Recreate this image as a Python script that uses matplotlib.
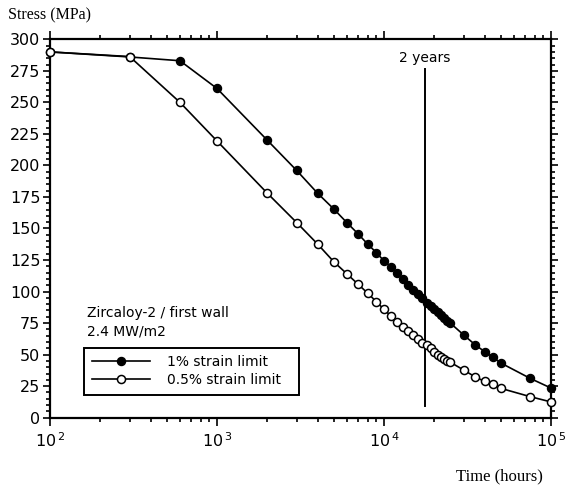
import matplotlib
matplotlib.use("Agg")
import matplotlib.pyplot as plt
from matplotlib.ticker import MultipleLocator, LogLocator, FixedLocator, FixedFormatter, NullFormatter

# ---- data ----
time_1pct = [100, 300, 600, 1000, 2000, 3000, 4000, 5000, 6000, 7000, 8000, 9000, 10000,
             11000, 12000, 13000, 14000, 15000, 16000, 17000, 18000, 19000, 20000, 21000,
             22000, 23000, 24000, 25000, 30000, 35000, 40000, 45000, 50000, 75000, 100000]
stress_1pct = [290, 286, 283, 261, 220, 196, 178, 165.5, 154.6, 145.7, 137.5, 130.9, 124.3,
               119.8, 114.5, 109.7, 105.2, 101.3, 98.1, 94.7, 91.2, 88.6, 85.9, 84.1,
               81.4, 78.8, 76.7, 74.9, 65.6, 58.0, 52.4, 47.9, 43.4, 31.2, 23.5]

time_05pct = [100, 300, 600, 1000, 2000, 3000, 4000, 5000, 6000, 7000, 8000, 9000, 10000,
              11000, 12000, 13000, 14000, 15000, 16000, 17000, 18000, 19000, 20000, 21000,
              22000, 23000, 24000, 25000, 30000, 35000, 40000, 45000, 50000, 75000, 100000]
stress_05pct = [290, 286.3, 250, 219.4, 178, 154.7, 137.7, 123.7, 114, 105.8, 98.6, 92, 85.9,
                80.6, 76.2, 72.2, 69, 65.6, 62.4, 59.5, 57.7, 55, 52.4, 49.7,
                48.4, 46.3, 45.0, 43.9, 37.8, 32.5, 28.8, 26.6, 23.3, 16.7, 12.5]

two_years_hours = 17520
two_years_span = [9, 276.5]

legend_labels = ["1% strain limit", "0.5% strain limit"]
y_ticks = list(range(0, 301, 25))
x_decades = [100, 1000, 10000, 100000]
x_ticklabels = [r"$\mathregular{10^{\,2}}$", r"$\mathregular{10^{\,3}}$",
                r"$\mathregular{10^{\,4}}$", r"$\mathregular{10^{\,5}}$"]

# ---- figure ----
fig = plt.figure(figsize=(5.67, 4.86), dpi=100)
ax = fig.add_axes([50/567, 1-417.7/486, 501/567, 378.4/486])

l1, = ax.plot(time_1pct, stress_1pct, color="black", lw=1.2, marker="o", ms=5.8,
              mfc="black", mec="black", mew=1.0, label=legend_labels[0], zorder=3,
              clip_on=False)
l2, = ax.plot(time_05pct, stress_05pct, color="black", lw=1.2, marker="o", ms=5.8,
              mfc="white", mec="black", mew=1.1, label=legend_labels[1], zorder=4,
              clip_on=False)

ax.plot([two_years_hours, two_years_hours], two_years_span, color="black", lw=1.4, zorder=2)
ax.text(two_years_hours, 285.5, "2 years", ha="center", va="center", fontsize=10,
        family="DejaVu Sans")

ax.set_xscale("log")
ax.set_xlim(100, 100000)
ax.set_ylim(0, 300)

ax.xaxis.set_major_locator(FixedLocator(x_decades))
ax.xaxis.set_major_formatter(FixedFormatter(x_ticklabels))
ax.xaxis.set_minor_locator(LogLocator(base=10, subs=range(2, 10)))
ax.xaxis.set_minor_formatter(NullFormatter())
ax.yaxis.set_major_locator(FixedLocator(y_ticks))
ax.yaxis.set_minor_locator(MultipleLocator(5))

for s in ax.spines.values():
    s.set_linewidth(1.6)

ax.tick_params(which="both", direction="out", top=True, right=True, width=1.2,
               labelsize=11.5, colors="black")
ax.tick_params(which="major", length=5)
ax.tick_params(which="minor", length=3)
ax.tick_params(axis="x", which="major", length=6, pad=4)
ax.tick_params(axis="y", which="major", pad=2)
for lab in ax.get_xticklabels() + ax.get_yticklabels():
    lab.set_family("DejaVu Sans")

ax.text(0.074, 0.2767, "Zircaloy-2 / first wall", transform=ax.transAxes,
        ha="left", va="center", fontsize=10, family="DejaVu Sans")
ax.text(0.074, 0.2273, "2.4 MW/m2", transform=ax.transAxes,
        ha="left", va="center", fontsize=10, family="DejaVu Sans")

leg = ax.legend(handles=[l1, l2], loc="lower left", mode="expand",
                bbox_to_anchor=(0.0679, 0.060, 0.429, 0.127),
                fancybox=False, framealpha=1, edgecolor="black",
                handlelength=4.2, handletextpad=1.2,
                labelspacing=0.3, borderpad=0.55, borderaxespad=0,
                prop={"family": "DejaVu Sans", "size": 10})
leg.get_frame().set_linewidth(1.4)
leg.set_zorder(5)

fig.text(8/567, 1-15/486, "Stress (MPa)", ha="left", va="center",
         fontsize=11.5, family="Liberation Serif")
fig.text(543/567, 1-476/486, "Time (hours)", ha="right", va="center",
         fontsize=12, family="Liberation Serif")

fig.savefig("out.png", dpi=100)
